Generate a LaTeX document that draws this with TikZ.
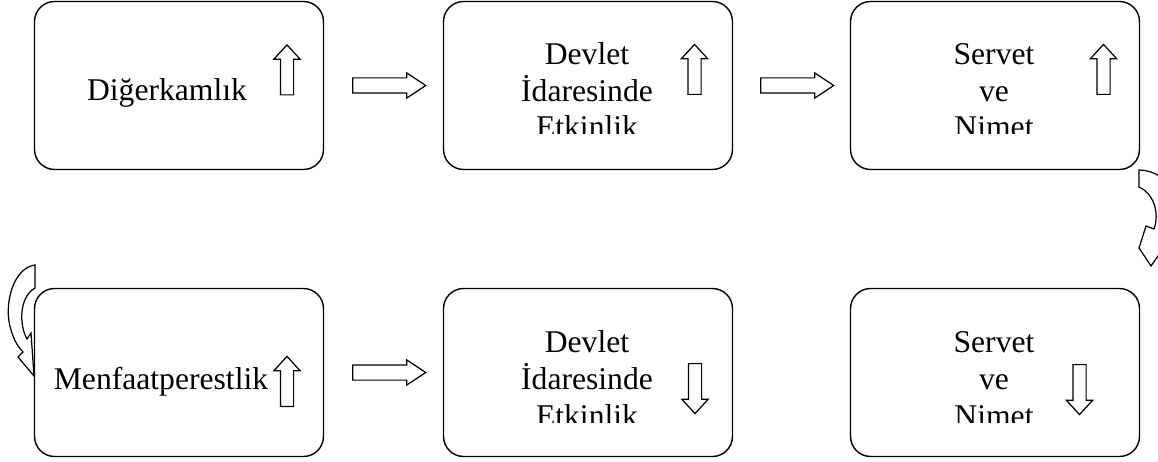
\documentclass[tikz,border=0pt]{standalone}
\usepackage{fontspec}
\setmainfont{Liberation Serif}
\usetikzlibrary{shapes.arrows,calc}

\tikzset{
  box/.style={draw, thick, rounded corners=0.4cm, minimum width=5.78cm, minimum height=3.36cm},
  lbl/.style={font=\fontsize{18}{21}\selectfont, align=center, inner sep=0pt, anchor=base},
  bigarrow/.style={draw, line width=0.7pt, single arrow, inner sep=0.14cm, minimum height=1.46cm, single arrow head extend=0.1cm, single arrow tip angle=67},
  smallarrow/.style={draw, line width=0.7pt, single arrow, inner sep=0.12cm, minimum height=1cm, single arrow head extend=0.13cm, single arrow tip angle=85},
  curvearrow/.style={draw, line width=0.7pt}
}

\begin{document}
\begin{tikzpicture}[x=0.02cm, y=-0.02cm]
  \clip (0,0) rectangle (1158,462);

  % boxes
  \node[box] (b1) at (179,85.5) {};
  \node[box] (b2) at (588,85.5) {};
  \node[box] (b3) at (995,85.5) {};
  \node[box] (b4) at (179,372.5) {};
  \node[box] (b5) at (588,372.5) {};
  \node[box] (b6) at (995,372.5) {};

  % texts (last line sits on the anchor)
  \node[lbl] (t1) at (167,101) {Diğerkamlık};
  \begin{scope}
    \clip (443,10) rectangle (734,134);
    \node[lbl] (t2) at (587,138) {Devlet\\İdaresinde\\Etkinlik};
  \end{scope}
  \begin{scope}
    \clip (851,10) rectangle (1139,134);
    \node[lbl] (t3) at (994,138) {Servet\\ve\\Nimet};
  \end{scope}
  \node[lbl] (t4) at (161,389) {Menfaatperestlik};
  \begin{scope}
    \clip (443,298) rectangle (734,422.5);
    \node[lbl] (t5) at (587,426) {Devlet\\İdaresinde\\Etkinlik};
  \end{scope}
  \begin{scope}
    \clip (851,298) rectangle (1139,422.5);
    \node[lbl] (t6) at (994,426) {Servet\\ve\\Nimet};
  \end{scope}

  % up / down arrows
  \node[smallarrow, rotate=90] (u1) at (287,73.5) {};
  \node[smallarrow, rotate=90] (u2) at (694.5,73) {};
  \node[smallarrow, rotate=90] (u3) at (1103.5,73) {};
  \node[smallarrow, rotate=90] (u4) at (287,385) {};
  \node[smallarrow, rotate=-90] (d5) at (695,385) {};
  \node[smallarrow, rotate=-90] (d6) at (1079.5,386) {};

  % arrows between the boxes
  \node[bigarrow] (a12) at ($(b1.east)!0.5!(b2.west)$) {};
  \node[bigarrow] (a23) at ($(b2.east)!0.5!(b3.west)$) {};
  \node[bigarrow] (a45) at ($(b4.east)!0.5!(b5.west)$) {};

  % curved arrows
  \draw[curvearrow] (1139,187) -- (1139,170) .. controls (1172,171) and (1184,205) .. (1172,236)
    -- (1151,266) -- (1139,248) -- (1146,226) -- (1154,229)
    .. controls (1160,212) and (1153,193) .. (1139,187) -- cycle;
  \draw[curvearrow] (35,288) -- (35,265) .. controls (13,268) and (3,305) .. (11,330)
    .. controls (14,340) and (18,347) .. (23,352) -- (18,357) -- (34,376) -- (31,333) -- (27,339)
    .. controls (19,325) and (19,297) .. (35,288) -- cycle;
\end{tikzpicture}
\end{document}
